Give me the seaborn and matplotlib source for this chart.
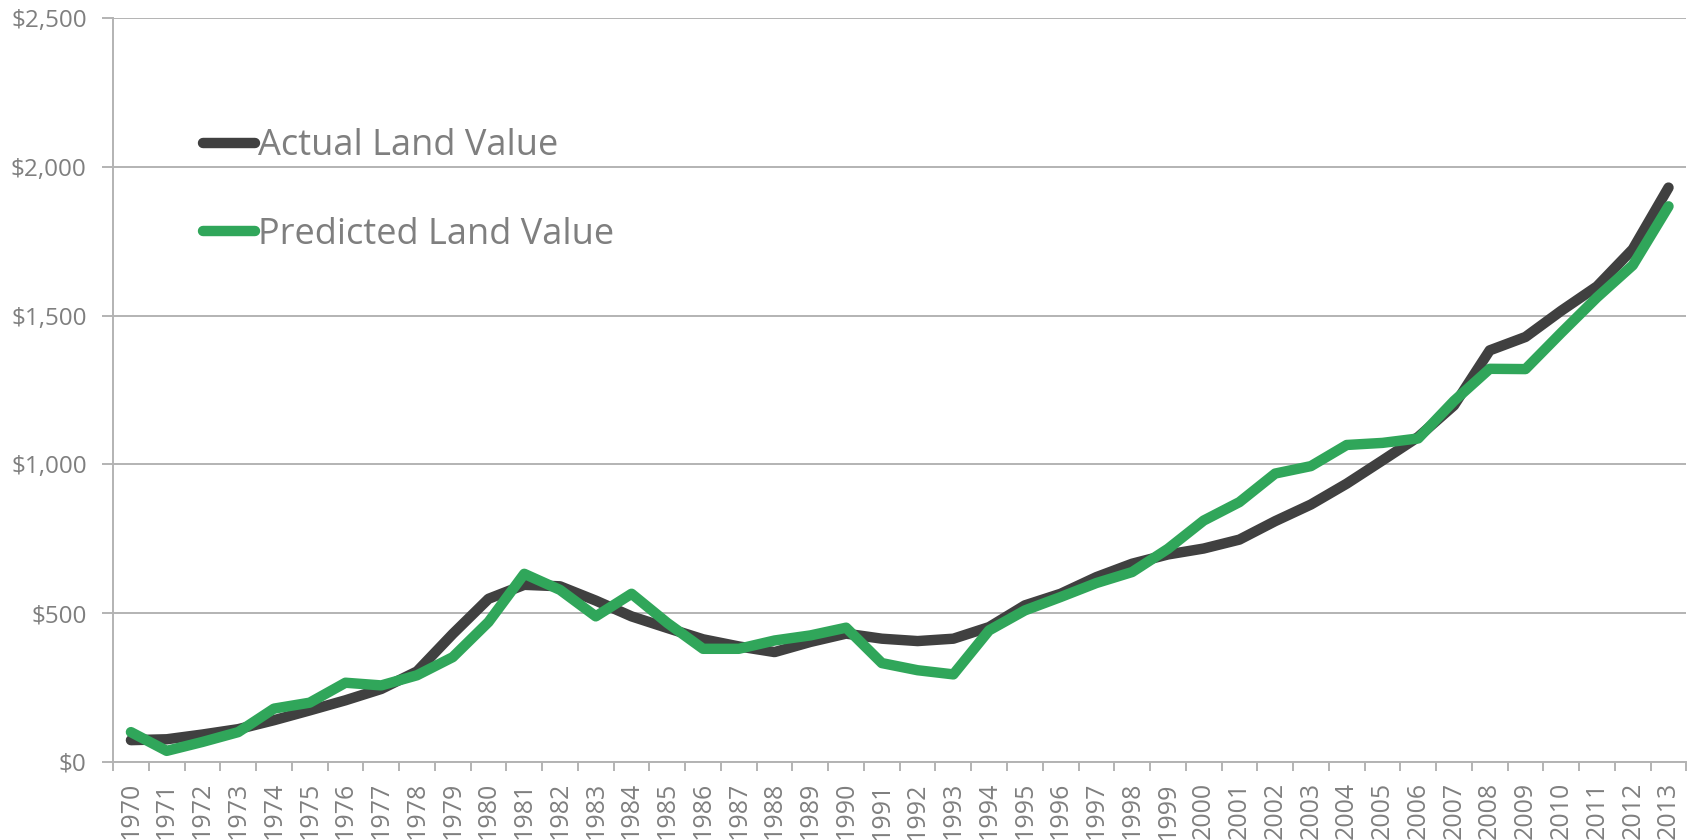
import numpy as np
import pandas as pd
import matplotlib
matplotlib.use("Agg")
import matplotlib.pyplot as plt
import seaborn as sns
from matplotlib.ticker import FuncFormatter, MultipleLocator

years = list(range(1970, 2014))
actual = [73, 76, 92, 110, 140, 173, 207, 245, 304, 430, 548, 595, 590, 542, 489, 450,
          412, 388, 369, 403, 431, 414, 406, 414, 453, 526, 565, 621, 666, 697,
          717, 747, 809, 865, 935, 1013, 1092, 1198, 1383, 1428, 1516, 1598, 1723, 1930]
predicted = [100, 37, 67, 100, 179, 199, 266, 257, 291, 352, 470, 632, 578, 489, 565, 467,
             380, 380, 408, 425, 451, 332, 308, 294, 442, 509, 554, 601, 638, 716,
             811, 873, 969, 994, 1065, 1072, 1087, 1213, 1321, 1320, 1442, 1561, 1669, 1867]
series_names = ["Actual Land Value", "Predicted Land Value"]
colors = ["#404040", "#30a65a"]

df = pd.concat([
    pd.DataFrame({"year": years, "value": actual, "series": series_names[0]}),
    pd.DataFrame({"year": years, "value": predicted, "series": series_names[1]}),
])

sns.set_theme(style="white")
plt.rcParams["font.family"] = ["Open Sans", "DejaVu Sans"]

fig, ax = plt.subplots(figsize=(17, 8.4), dpi=100)
fig.subplots_adjust(left=0.0665, right=0.992, top=0.9786, bottom=0.093)

LW = 7.5
sns.lineplot(data=df, x="year", y="value", hue="series", palette=colors, ax=ax,
             linewidth=LW, legend=True)
for line in ax.get_lines():
    line.set_solid_capstyle("round")
    line.set_solid_joinstyle("round")

ax.set_xlim(1969.5, 2013.5)
ax.set_ylim(0, 2500)
ax.yaxis.set_major_locator(MultipleLocator(500))
ax.yaxis.set_major_formatter(FuncFormatter(lambda v, p: f"${v:,.0f}"))
ax.set_xticks(years)
ax.set_xticklabels([str(y) for y in years], rotation=90, va="top")
ax.set_xticks([y + 0.5 for y in [1969] + years], minor=True)
ax.grid(axis="y", color="#b3b3b3", linewidth=1.4)
ax.set_axisbelow(True)
ax.set_xlabel("")
ax.set_ylabel("")

for s in ["top", "right"]:
    ax.spines[s].set_visible(False)
for s in ["left", "bottom"]:
    ax.spines[s].set_color("#b3b3b3")
    ax.spines[s].set_linewidth(1.4)

ax.tick_params(axis="x", which="major", length=0, labelsize=18, labelcolor="#7f7f7f", pad=14.5)
ax.tick_params(axis="x", which="minor", length=6.5, width=1.4, color="#b3b3b3", direction="out", bottom=True)
ax.tick_params(axis="y", which="major", length=8, width=1.4, color="#b3b3b3", direction="out", left=True,
               labelsize=17.5, labelcolor="#7f7f7f", pad=11)

leg = ax.legend(loc="center left", bbox_to_anchor=(0.0572, 0.768), frameon=False,
                fontsize=26, handlelength=1.44, handletextpad=0.08, labelspacing=1.46,
                borderaxespad=0, borderpad=0)
for t in leg.get_texts():
    t.set_color("#7f7f7f")
for h in leg.get_lines():
    h.set_linewidth(LW)
    h.set_solid_capstyle("round")

fig.savefig("out.png", dpi=100)
